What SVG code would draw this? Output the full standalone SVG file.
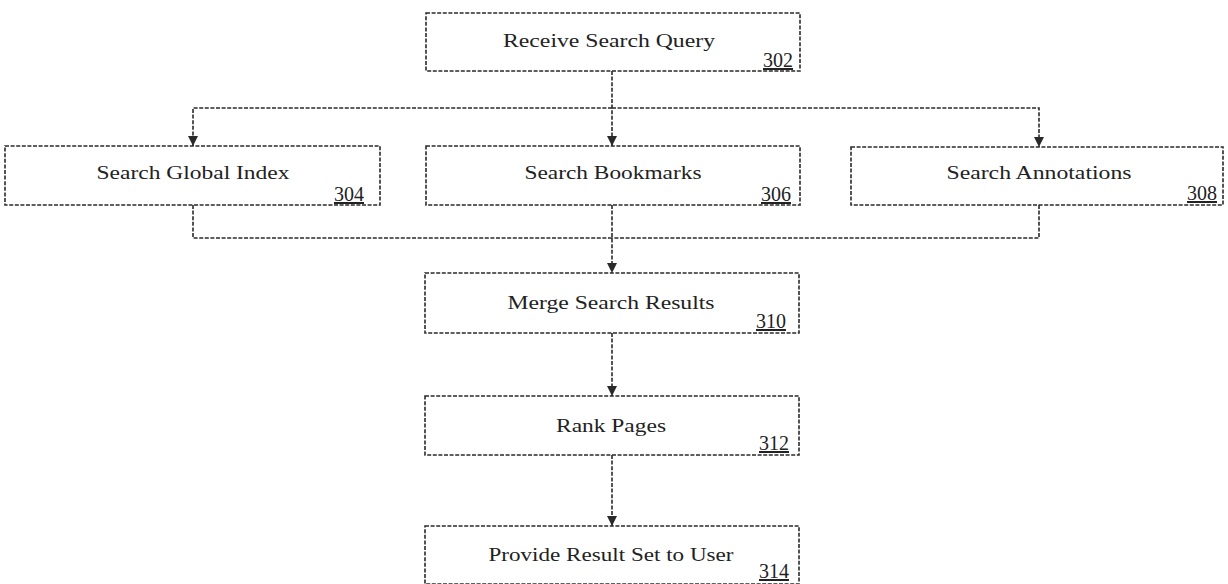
<svg xmlns="http://www.w3.org/2000/svg" width="1228" height="584" viewBox="0 0 1228 584">
  <style>
    .box { fill: #ffffff; stroke: #2a2a2a; stroke-width: 1.6; stroke-dasharray: 4 1.6; }
    .conn { fill: none; stroke: #2a2a2a; stroke-width: 1.6; stroke-dasharray: 4 1.6; }
    .lbl { font-family: "Liberation Serif", "Times New Roman", serif; font-size: 19px; fill: #222; text-anchor: middle; }
    .num { font-family: "Liberation Serif", "Times New Roman", serif; font-size: 20px; fill: #222; text-anchor: end; text-decoration: underline; }
  </style>
  <defs>
    <marker id="arrow" viewBox="0 0 10 10" refX="10" refY="5" markerWidth="10" markerHeight="10" markerUnits="userSpaceOnUse" orient="auto">
      <path d="M0,0 L10,5 L0,10 z" fill="#2a2a2a" stroke="none"/>
    </marker>
  </defs>
  <rect width="1228" height="584" fill="#ffffff"/>

  <g id="connectors">
    <path class="conn" d="M612,71 V146" marker-end="url(#arrow)"/>
    <path class="conn" d="M612,108 H193 V146" marker-end="url(#arrow)"/>
    <path class="conn" d="M612,108 H1039 V147" marker-end="url(#arrow)"/>
    <path class="conn" d="M193,205 V238 H612"/>
    <path class="conn" d="M1039,205 V238 H612"/>
    <path class="conn" d="M612,205 V273" marker-end="url(#arrow)"/>
    <path class="conn" d="M612,333 V396" marker-end="url(#arrow)"/>
    <path class="conn" d="M612,455 V526" marker-end="url(#arrow)"/>
  </g>

  <g id="node-302">
    <rect class="box" x="426" y="13" width="374" height="58"/>
    <text class="lbl" x="609" y="47" textLength="212" lengthAdjust="spacingAndGlyphs">Receive Search Query</text>
    <text class="num" x="793" y="67">302</text>
  </g>
  <g id="node-304">
    <rect class="box" x="5" y="146" width="375" height="59"/>
    <text class="lbl" x="193" y="179" textLength="193" lengthAdjust="spacingAndGlyphs">Search Global Index</text>
    <text class="num" x="364" y="201">304</text>
  </g>
  <g id="node-306">
    <rect class="box" x="426" y="146" width="374" height="59"/>
    <text class="lbl" x="613" y="179" textLength="177" lengthAdjust="spacingAndGlyphs">Search Bookmarks</text>
    <text class="num" x="791" y="201">306</text>
  </g>
  <g id="node-308">
    <rect class="box" x="851" y="147" width="372" height="58"/>
    <text class="lbl" x="1039" y="179" textLength="185" lengthAdjust="spacingAndGlyphs">Search Annotations</text>
    <text class="num" x="1217" y="200">308</text>
  </g>
  <g id="node-310">
    <rect class="box" x="425" y="273" width="374" height="60"/>
    <text class="lbl" x="611" y="309" textLength="207" lengthAdjust="spacingAndGlyphs">Merge Search Results</text>
    <text class="num" x="786" y="328">310</text>
  </g>
  <g id="node-312">
    <rect class="box" x="425" y="396" width="374" height="59"/>
    <text class="lbl" x="611" y="432" textLength="110" lengthAdjust="spacingAndGlyphs">Rank Pages</text>
    <text class="num" x="789" y="450">312</text>
  </g>
  <g id="node-314">
    <rect class="box" x="425" y="526" width="374" height="58"/>
    <text class="lbl" x="611" y="561" textLength="245" lengthAdjust="spacingAndGlyphs">Provide Result Set to User</text>
    <text class="num" x="789" y="578">314</text>
  </g>
</svg>
